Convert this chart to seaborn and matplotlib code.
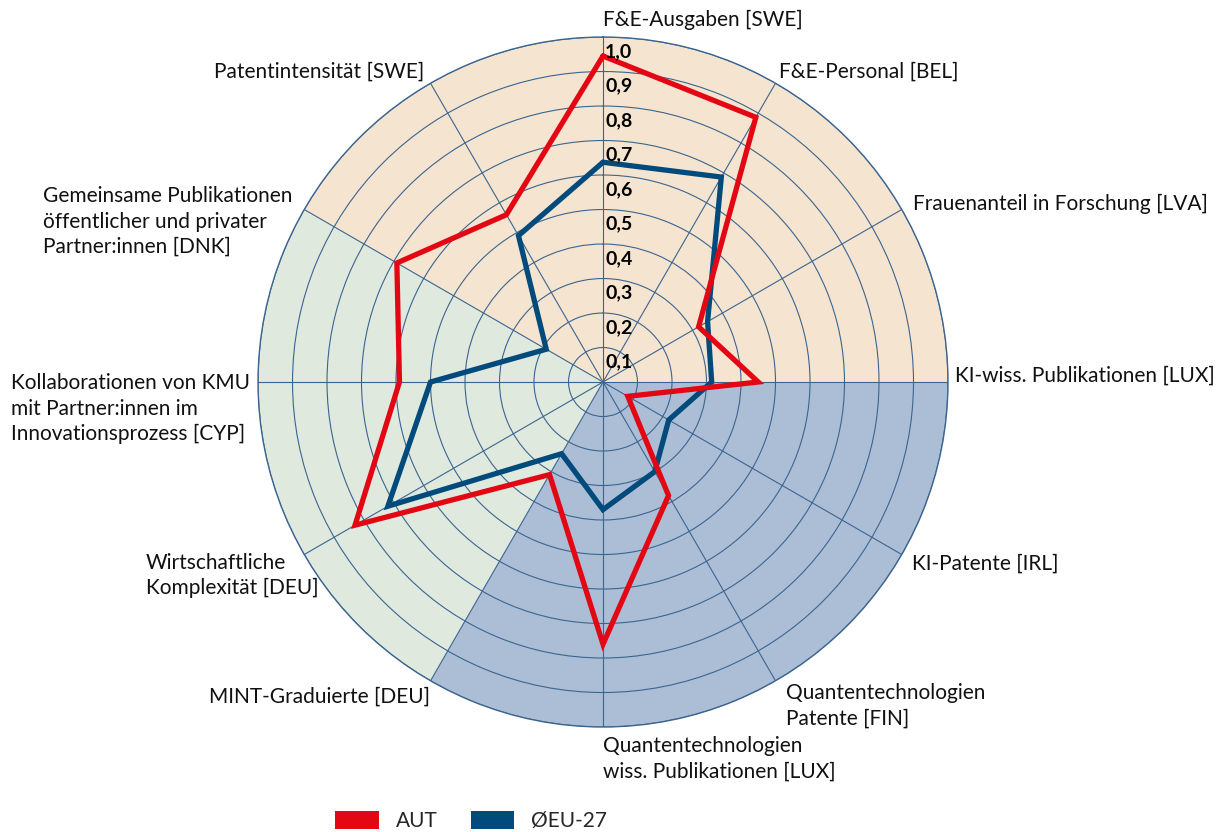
import numpy as np
import pandas as pd
import matplotlib
matplotlib.use("Agg")
import matplotlib.pyplot as plt
from matplotlib.patches import Patch
import seaborn as sns

# ---------------- data ----------------
categories = [
    "F&E-Ausgaben [SWE]",
    "F&E-Personal [BEL]",
    "Frauenanteil in Forschung [LVA]",
    "KI-wiss. Publikationen [LUX]",
    "KI-Patente [IRL]",
    "Quantentechnologien\nPatente [FIN]",
    "Quantentechnologien\nwiss. Publikationen [LUX]",
    "MINT-Graduierte [DEU]",
    "Wirtschaftliche\nKomplexität [DEU]",
    "Kollaborationen von KMU\nmit Partner:innen im\nInnovationsprozess [CYP]",
    "Gemeinsame Publikationen\nöffentlicher und privater\nPartner:innen [DNK]",
    "Patentintensität [SWE]",
]
aut = [0.945, 0.886, 0.32, 0.45, 0.083, 0.38, 0.76, 0.31, 0.83, 0.59, 0.69, 0.56]
eu27 = [0.637, 0.686, 0.35, 0.315, 0.22, 0.30, 0.37, 0.24, 0.72, 0.50, 0.19, 0.49]
series_names = ["AUT", "ØEU-27"]
ring_values = [0.1, 0.2, 0.3, 0.4, 0.5, 0.6, 0.7, 0.8, 0.9, 1.0]
ring_labels = ["0,1", "0,2", "0,3", "0,4", "0,5", "0,6", "0,7", "0,8", "0,9", "1,0"]

# ---------------- style ----------------
sns.set_theme(style="white")
plt.rcParams["font.family"] = ["Lato", "DejaVu Sans"]

RED = "#E30613"
BLUE = "#004B7C"
GRID = "#3B6591"
C_ORANGE = "#F5E4CF"
C_BLUE = "#ACBED6"
C_GREEN = "#DFE9DD"

fig = plt.figure(figsize=(12.31, 8.32), dpi=100)
ax = fig.add_axes([0.2096, 0.1262, 0.5605, 0.8293], projection="polar")
ax.set_theta_zero_location("N")
ax.set_theta_direction(-1)
ax.set_ylim(0, 1.0)

n = len(categories)
angles = np.arange(n) * 2 * np.pi / n

# background sectors
deg = np.pi / 180
sectors = [(300, 450, C_ORANGE), (90, 210, C_BLUE), (210, 300, C_GREEN)]
for a0, a1, col in sectors:
    ax.bar((a0 + a1) / 2 * deg, 1.0, width=(a1 - a0) * deg, bottom=0,
           color=col, edgecolor="none", zorder=0, align="center")

# grid
ax.set_xticks(angles)
ax.set_xticklabels([])
ax.set_yticks(ring_values)
ax.set_yticklabels([])
ax.grid(True, color=GRID, linewidth=0.8, zorder=1)
ax.set_axisbelow(False)
ax.spines["polar"].set_color(GRID)
ax.spines["polar"].set_linewidth(1.0)
ax.tick_params(axis="both", length=0, pad=0)

# data lines (closed loops)
rows = []
for name, vals in [("ØEU-27", eu27), ("AUT", aut)]:
    th = list(angles) + [2 * np.pi]
    vv = list(vals) + [vals[0]]
    for i, (t, v) in enumerate(zip(th, vv)):
        rows.append({"series": name, "theta": t, "value": v, "order": i})
df = pd.DataFrame(rows)
for name, col in [("ØEU-27", BLUE), ("AUT", RED)]:
    sub = df[df["series"] == name]
    sns.lineplot(data=sub, x="theta", y="value", sort=False, estimator=None,
                 color=col, linewidth=3.8, ax=ax, legend=False,
                 solid_joinstyle="miter", zorder=5)
ax.set_xlabel("")
ax.set_ylabel("")
ax.set_ylim(0, 1.0)

# radial labels
for v, lab in zip(ring_values, ring_labels):
    ax.annotate(lab, xy=(0, v), xytext=(2 * 0.72, -6 * 0.72),
                textcoords="offset points", ha="left", va="top",
                fontsize=14, fontweight="bold", color="black", zorder=6)

# category labels: (ha, va, dx_px, dy_px)
specs = [
    ("left", "bottom", 0, 7),
    ("left", "bottom", 4, 2),
    ("left", "center", 11, 6),
    ("left", "center", 7, 6),
    ("left", "center", 10, -9),
    ("left", "top", 11, -2),
    ("left", "top", 0, -9),
    ("right", "top", -1, -6),
    ("right", "top", 14, 2),
    ("right", "top", -8, 9),
    ("right", "center", -12, -12),
    ("right", "bottom", -6, 2),
]
for a, lab, (ha, va, dx, dy) in zip(angles, categories, specs):
    ax.annotate(lab, xy=(a, 1.0), xytext=(dx * 0.72, dy * 0.72),
                textcoords="offset points", ha=ha, va=va,
                multialignment="left", fontsize=15, color="#111111",
                linespacing=1.35, annotation_clip=False)

# legend
handles = [Patch(facecolor=RED, edgecolor="none"),
           Patch(facecolor=BLUE, edgecolor="none")]
fig.legend(handles, series_names, loc="center",
           bbox_to_anchor=(471 / 1231, 11 / 832), ncol=2, frameon=False,
           fontsize=15, handlelength=2.1, handleheight=0.95,
           handletextpad=0.8, columnspacing=1.6, borderpad=0)

fig.savefig("out.png", dpi=100)
